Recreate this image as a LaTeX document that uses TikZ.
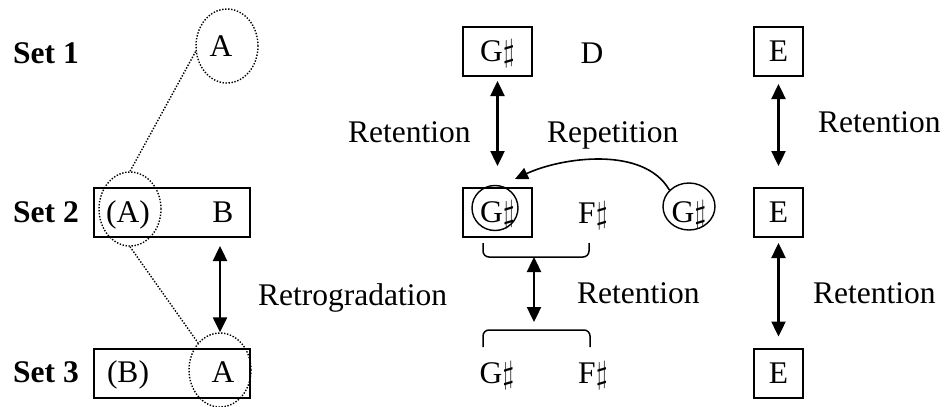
\RequirePackage{fix-cm}
\documentclass[tikz,border=0pt]{standalone}
\usepackage{fontspec}
\setmainfont{Liberation Serif}
\usetikzlibrary{arrows.meta,shapes.geometric}

\begin{document}
\begin{tikzpicture}[x=1pt,y=-1pt,font=\fontsize{31.5}{37}\selectfont]
      % Styles
      \tikzstyle{txt}=[inner sep=0pt, anchor=base]
      \tikzstyle{setlbl}=[inner sep=0pt, anchor=base west, font=\fontsize{31.5}{37}\selectfont\bfseries]
      \tikzstyle{lbl}=[inner sep=0pt, anchor=base west]
      \tikzstyle{notebox}=[draw, line width=2pt, inner sep=0pt, minimum height=49pt, text height=20pt, text depth=0pt]
      \tikzstyle{dotring}=[draw, ellipse, line width=1.4pt, dash pattern=on 1.4pt off 1.6pt, inner sep=0pt, minimum width=62pt, minimum height=74pt]
      \tikzstyle{ring}=[draw, ellipse, line width=1.4pt, inner sep=0pt]
      \tikzstyle{dbl}=[{Triangle[length=15pt,width=14pt]}-{Triangle[length=15pt,width=14pt]}, line width=2.4pt]
      \tikzstyle{brace}=[line width=1.5pt, rounded corners=6pt]
      \tikzstyle{dots}=[line width=1.4pt, dash pattern=on 1.4pt off 1.6pt]

      \useasboundingbox (0,0) rectangle (946,407);

      % Set labels
      \node[setlbl] (set1) at (13,63) {Set 1};
      \node[setlbl] (set2) at (13,222) {Set 2};
      \node[setlbl] (set3) at (13,382) {Set 3};

      % Left column
      \node[notebox, minimum width=156pt] (row2) at (172,212.5) {};
      \node[notebox, minimum width=156pt] (row3) at (172,373) {};
      \node[txt] (a1) at (221,56) {A};
      \node[txt] (a2) at (128,222) {(A)};
      \node[txt] (b2) at (223,222) {B};
      \node[txt] (b3) at (128,382) {(B)};
      \node[txt] (a3) at (223,382) {A};
      \node[dotring] (ring1) at (227,46) {};
      \node[dotring] (ring2) at (130,209) {};
      \node[dotring] (ring3) at (220,370) {};

      % Middle column
      \node[notebox, minimum width=69pt] (g1) at (497.5,51.5) {G$\sharp$};
      \node[notebox, minimum width=69pt] (g2) at (497.5,212.5) {G$\sharp$};
      \node[ring, minimum width=46pt, minimum height=45pt] (cg2) at (495,208) {};
      \node[txt] (d1) at (592,63) {D};
      \node[txt] (f2) at (593,223) {F$\sharp$};
      \node[ring, minimum width=52pt, minimum height=47pt, text height=32pt, text depth=0pt] (rep) at (689,206.5) {G$\sharp$};
      \node[txt] (g3) at (497,383) {G$\sharp$};
      \node[txt] (f3) at (593,383) {F$\sharp$};
      \coordinate (brA) at (534,257);
      \coordinate (brB) at (534,330);

      % Right column
      \node[notebox, minimum width=49pt] (e1) at (778.5,51.5) {E};
      \node[notebox, minimum width=49pt] (e2) at (778.5,212.5) {E};
      \node[notebox, minimum width=49pt] (e3) at (778.5,373) {E};

      % Relation labels
      \node[lbl] (ret1) at (348,142) {Retention};
      \node[lbl] (repl) at (547,142) {Repetition};
      \node[lbl] (ret2) at (818,132) {Retention};
      \node[lbl] (retro) at (258,305) {Retrogradation};
      \node[lbl] (ret3) at (577,303) {Retention};
      \node[lbl] (ret4) at (813,303) {Retention};

      % Connections
      \draw[dots] (ring1.190) -- (ring2.north);
      \draw[dots] (ring2.south) -- (ring3.129);
      \draw[dbl] ([yshift=-8pt]row2.south -| ring3) -- (ring3.north);
      \draw[dbl] ([yshift=-4pt]g1.south) -- ([yshift=21pt]g2.north);
      \draw[-{Triangle[length=13pt,width=12pt]}, line width=1.6pt] (rep.140) to[out=120, in=25, looseness=0.85] ([xshift=-18pt,yshift=8pt]g2.north east);
      \draw[brace] (483,243) -- (483,257) -- (589,257) -- (589,243);
      \draw[brace] (483,347) -- (483,330) -- (590,330) -- (590,347);
      \draw[dbl] (brA) -- ([yshift=8pt]brB);
      \draw[dbl] ([yshift=-7pt]e1.south) -- ([yshift=21pt]e2.north);
      \draw[dbl] ([yshift=-5pt]e2.south) -- ([yshift=11pt]e3.north);
    \end{tikzpicture}
\end{document}
